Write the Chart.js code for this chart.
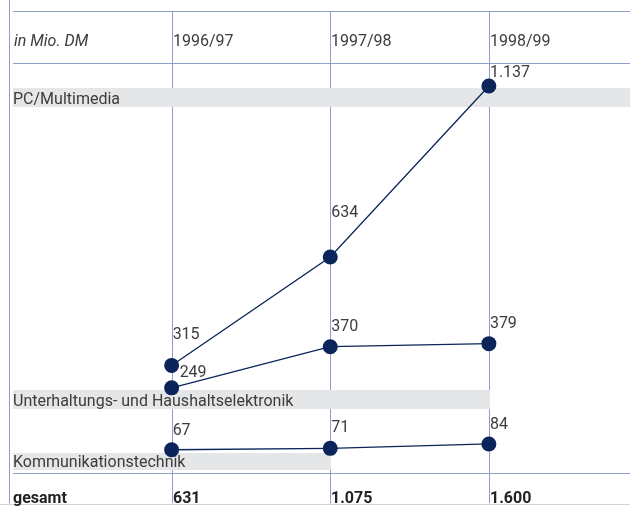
<!DOCTYPE html>
<html>
<head>
<meta charset="utf-8">
<script src="https://cdn.jsdelivr.net/npm/chart.js@4/dist/chart.umd.min.js"></script>
<style>
  html, body { margin: 0; padding: 0; background: #fff; }
  canvas { display: block; }
</style>
</head>
<body>
<canvas id="chart" width="630" height="506"></canvas>
<script>
const unitLabel = "in Mio. DM";
const categories = ["1996/97", "1997/98", "1998/99"];
const seriesNames = ["PC/Multimedia", "Unterhaltungs- und Haushaltselektronik", "Kommunikationstechnik"];
const pcMultimedia = [315, 634, 1137];
const unterhaltung = [249, 370, 379];
const kommunikation = [67, 71, 84];
const totalLabel = "gesamt";

const GRID = "#929ec6";
const NAVY = "#0b2459";
const TEXT = "#3c3c3c";
const BAND = "#e5e6e8";
const FONT = "Roboto, 'Noto Sans', sans-serif";

function deFmt(n) {
  return String(n).replace(/\B(?=(\d{3})+(?!\d))/g, ".");
}

const totals = categories.map((c, i) => pcMultimedia[i] + unterhaltung[i] + kommunikation[i]);

function series(values, extra) {
  return Object.assign({
    data: values.map((v, i) => ({ x: i, y: v })),
    borderColor: NAVY,
    borderWidth: 1.3,
    backgroundColor: NAVY,
    pointBackgroundColor: NAVY,
    pointBorderWidth: 0,
    pointRadius: 7.5,
    tension: 0
  }, extra);
}

// table lines, header, bands with series names and totals row
const tablePlugin = {
  id: "table",
  beforeDatasetsDraw(chart) {
    const { ctx, chartArea: a, scales: { x, y } } = chart;
    const right = chart.width;
    const top = a.top;
    const header = a.top + 52;
    const zero = Math.round(y.getPixelForValue(0)) + 0.5;
    const bottom = 503.5;

    ctx.save();
    ctx.strokeStyle = GRID;
    ctx.lineWidth = 1;
    ctx.beginPath();
    ctx.moveTo(9.5, 0); ctx.lineTo(9.5, bottom);
    [top + 0.5, header + 0.5, zero].forEach(py => {
      ctx.moveTo(a.left, py); ctx.lineTo(right, py);
    });
    categories.forEach((c, i) => {
      const px = Math.round(x.getPixelForValue(i)) + 0.5;
      ctx.moveTo(px, top); ctx.lineTo(px, bottom);
    });
    ctx.stroke();

    ctx.strokeStyle = "#d4d4d8";
    ctx.beginPath();
    ctx.moveTo(0, 504.5); ctx.lineTo(right, 504.5);
    ctx.stroke();

    // header row
    ctx.fillStyle = TEXT;
    ctx.textBaseline = "middle";
    ctx.font = "italic 16px " + FONT;
    ctx.fillText(unitLabel, 14, 42);
    ctx.font = "16px " + FONT;
    categories.forEach((c, i) => {
      ctx.fillText(c, Math.round(x.getPixelForValue(i)) + 1, 42);
    });

    // name bands
    const bands = [
      { name: seriesNames[0], top: 88, h: 19, end: x.max },
      { name: seriesNames[1], top: 390, h: 19, end: 2 },
      { name: seriesNames[2], top: 453, h: 17, end: 1 }
    ];
    ctx.textBaseline = "alphabetic";
    bands.forEach(b => {
      const xe = Math.round(x.getPixelForValue(b.end)) + 1;
      ctx.fillStyle = BAND;
      ctx.fillRect(a.left, b.top, xe - a.left, b.h);
      ctx.fillStyle = TEXT;
      ctx.fillText(b.name, 13, b.top + b.h - 3);
    });

    // totals row
    ctx.fillStyle = "#222";
    ctx.font = "bold 16px " + FONT;
    ctx.fillText(totalLabel, 13, 503);
    totals.forEach((t, i) => {
      ctx.fillText(deFmt(t), Math.round(x.getPixelForValue(i)) + 1, 503);
    });
    ctx.restore();
  },
  afterDatasetsDraw(chart) {
    const { ctx } = chart;
    ctx.save();
    ctx.fillStyle = TEXT;
    ctx.font = "16px " + FONT;
    ctx.textBaseline = "middle";
    chart.data.datasets.forEach((ds, di) => {
      chart.getDatasetMeta(di).data.forEach((pt, i) => {
        const dx = ds.labelDx ? ds.labelDx[i] : 1;
        ctx.fillText(deFmt(ds.data[i].y), pt.x + dx, pt.y - ds.labelDy[i]);
      });
    });
    ctx.restore();
  }
};

new Chart(document.getElementById("chart"), {
  type: "line",
  data: {
    datasets: [
      series(pcMultimedia, { labelDy: [30, 44, 13] }),
      series(unterhaltung, { labelDy: [15, 20, 20], labelDx: [8, 1, 1] }),
      series(kommunikation, { labelDy: [19, 20, 19] })
    ]
  },
  options: {
    responsive: false,
    animation: false,
    devicePixelRatio: 1,
    layout: { autoPadding: false, padding: { left: 13, right: 0, top: 11, bottom: 1 } },
    scales: {
      x: { type: "linear", min: -1, max: 2.8896, display: false },
      y: { type: "linear", min: -95.6, max: 1357.6, display: false }
    },
    plugins: { legend: { display: false }, tooltip: { enabled: false } }
  },
  plugins: [tablePlugin]
});
</script>
</body>
</html>
